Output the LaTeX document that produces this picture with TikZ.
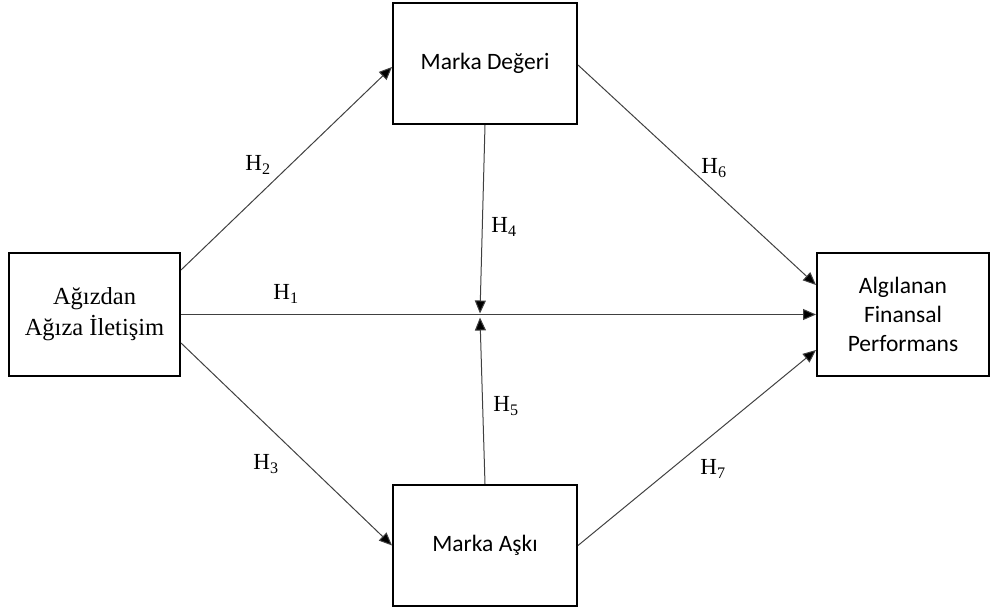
\documentclass[tikz,border=0pt]{standalone}
\usepackage{fontspec}
\setmainfont{Liberation Serif}
\newfontfamily\calibrifont{Carlito}
\usetikzlibrary{arrows.meta}
\begin{document}
\begin{tikzpicture}[x=1pt,y=-1pt,
  box/.style={draw=black,line width=2pt,rectangle,inner sep=0pt,align=center},
  arr/.style={draw=black!75,line width=1pt,-{Triangle[length=13pt,width=11pt,fill=black]}},
  lab/.style={font=\fontsize{23}{26}\selectfont,inner sep=0pt}]
\useasboundingbox (0,0) rectangle (994,609);
\node[box,minimum width=171pt,minimum height=123pt,font=\fontsize{24.5}{31}\selectfont] (L) at (94.5,314.5) {Ağızdan\\Ağıza İletişim};
\node[box,minimum width=184pt,minimum height=121pt,font=\calibrifont\fontsize{23.5}{28}\selectfont] (T) at (485,63.5) {Marka Değeri};
\node[box,minimum width=184pt,minimum height=121pt,font=\calibrifont\fontsize{23.5}{28}\selectfont] (B) at (485,545.5) {Marka Aşkı};
\node[box,minimum width=172pt,minimum height=123pt,font=\calibrifont\fontsize{23.5}{29}\selectfont] (R) at (903,314.5) {Algılanan\\Finansal\\Performans};
\coordinate (M1) at (480,313.5);
\coordinate (M2) at (480,317.5);
\draw[arr] ([yshift=44.5pt]L.east) -- ([yshift=-3.5pt]T.west);
\draw[arr] (L.east) -- (R.west);
\draw[arr] ([yshift=-28.5pt]L.east) -- (B.west);
\draw[arr] ([yshift=-1.5pt]T.east) -- ([yshift=29.5pt]R.west);
\draw[arr] (B.east) -- ([yshift=-35.5pt]R.west);
\draw[arr] (T.south) -- (M1);
\draw[arr] (B.north) -- (M2);
\node[lab] (h2) at (258,165) {H\textsubscript{2}};
\node[lab] (h1) at (286,294) {H\textsubscript{1}};
\node[lab] (h3) at (266,464) {H\textsubscript{3}};
\node[lab] (h4) at (504,227) {H\textsubscript{4}};
\node[lab] (h5) at (506,406) {H\textsubscript{5}};
\node[lab] (h6) at (714,168) {H\textsubscript{6}};
\node[lab] (h7) at (713,469) {H\textsubscript{7}};
\end{tikzpicture}
\end{document}
